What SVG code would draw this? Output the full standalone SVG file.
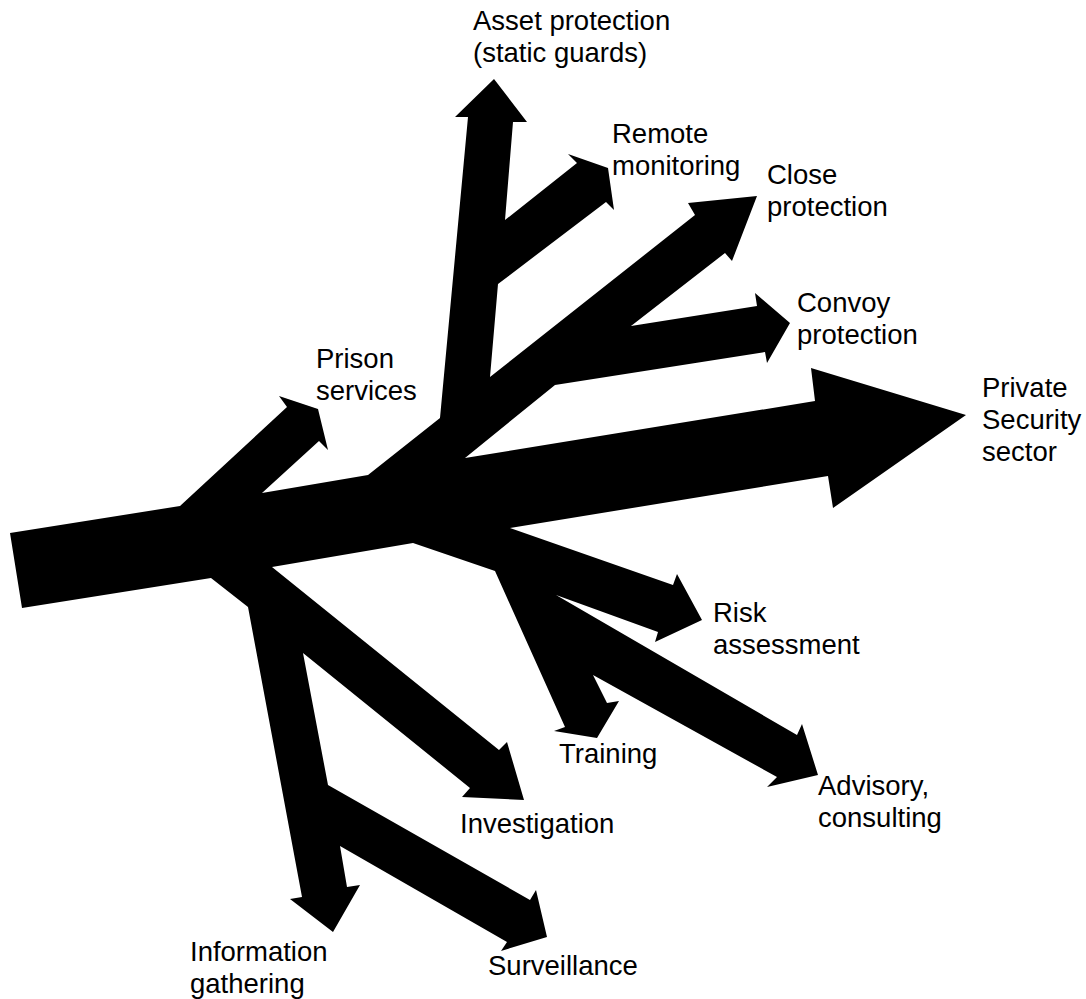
<svg xmlns="http://www.w3.org/2000/svg" width="1086" height="999" viewBox="0 0 1086 999">
<style>
.lbl{font-family:"Liberation Sans",Arial,sans-serif;font-size:27.5px;fill:#000}
.arr{fill:#000;stroke:none}
</style>
<rect width="1086" height="999" fill="#fff"/>
<g id="connectors">
<polygon class="arr" points="10,533 180,506 287,407 279,396 318,409 328,450 319,441 262,493 368,475 440,418 468,117 455,117 494,79 527,122 513,122 505,220 577,163 568,154 608,168 614,210 606,202 498,284 490,377 695,215 688,203 757,196 732,261 725,253 631,326 757,306 755,293 790,323 767,363 765,352 555,385 465,458 815,401 811,368 966,415 833,508 828,476 510,528 673,585 677,574 702,620 655,642 658,632 556,595 797,735 802,724 818,775 767,787 777,777 593,675 607,703 619,701 597,738 554,731 565,727 495,571 413,543 272,567 499,750 507,742 524,800 462,797 470,788 303,653 328,785 530,900 536,890 547,937 501,951 507,942 340,846 347,887 360,885 333,932 290,899 302,897 248,607 211,578 22,608"/>
</g>
<g id="asset"><text class="lbl" x="473" y="30">Asset protection</text><text class="lbl" x="473" y="62">(static guards)</text></g>
<g id="remote"><text class="lbl" x="612" y="143">Remote</text><text class="lbl" x="612" y="175">monitoring</text></g>
<g id="close"><text class="lbl" x="767" y="184">Close</text><text class="lbl" x="767" y="216">protection</text></g>
<g id="convoy"><text class="lbl" x="797" y="312">Convoy</text><text class="lbl" x="797" y="344">protection</text></g>
<g id="private"><text class="lbl" x="982" y="397">Private</text><text class="lbl" x="982" y="429">Security</text><text class="lbl" x="982" y="461">sector</text></g>
<g id="prison"><text class="lbl" x="316" y="368">Prison</text><text class="lbl" x="316" y="400">services</text></g>
<g id="risk"><text class="lbl" x="713" y="622">Risk</text><text class="lbl" x="713" y="654">assessment</text></g>
<g id="training"><text class="lbl" x="559" y="763">Training</text></g>
<g id="advisory"><text class="lbl" x="818" y="795">Advisory,</text><text class="lbl" x="818" y="827">consulting</text></g>
<g id="investigation"><text class="lbl" x="460" y="833">Investigation</text></g>
<g id="surveillance"><text class="lbl" x="488" y="975">Surveillance</text></g>
<g id="information"><text class="lbl" x="190" y="961">Information</text><text class="lbl" x="190" y="993">gathering</text></g>
</svg>
